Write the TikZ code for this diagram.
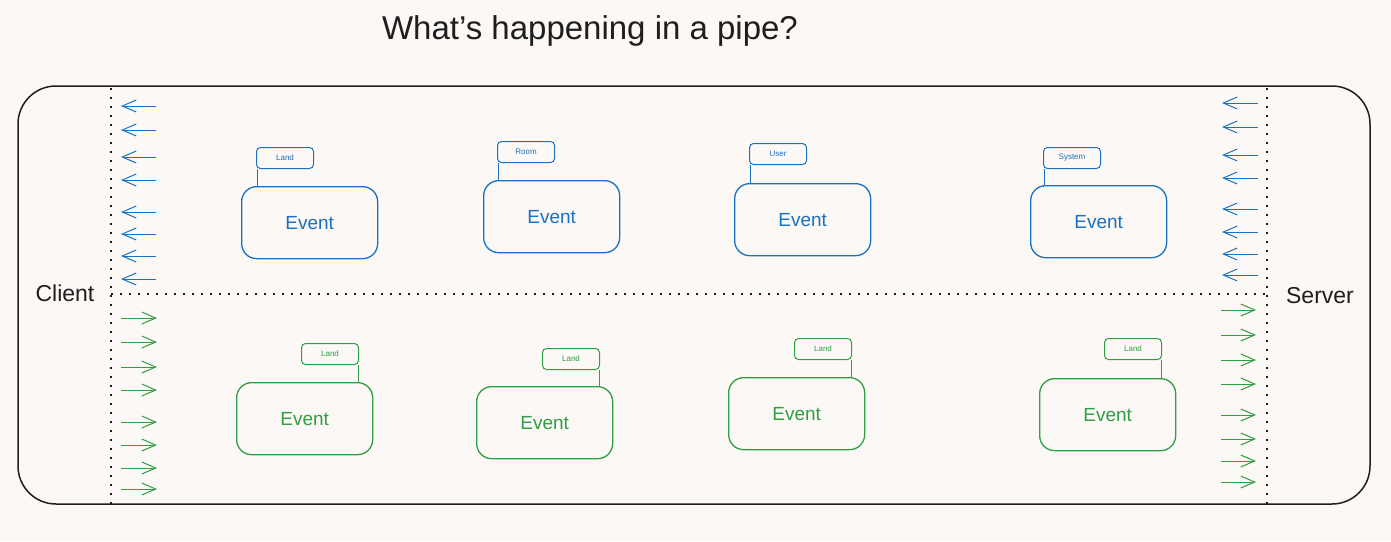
\documentclass[tikz,border=0pt]{standalone}
\usepackage{fontspec}
\setmainfont{Liberation Sans}
\usetikzlibrary{arrows.meta}
\definecolor{bg}{RGB}{252,248,246}
\definecolor{eblue}{RGB}{25,113,194}
\definecolor{egreen}{RGB}{47,158,68}
\definecolor{ink}{RGB}{30,30,30}
\begin{document}
\begin{tikzpicture}[x=1pt,y=-1pt,
  eventbox/.style={draw, line width=1.3pt, rounded corners=15pt, minimum width=136pt, minimum height=72pt,
    font=\fontsize{19}{22}\selectfont, inner sep=0pt, anchor=north west, text depth=0pt},
  tagbox/.style={draw, line width=1pt, rounded corners=4pt, minimum width=57pt, minimum height=21pt,
    font=\fontsize{8}{9}\selectfont, inner sep=0pt, anchor=north west},
  bluestyle/.style={eblue, text=eblue},
  greenstyle/.style={egreen, text=egreen},
  tagline/.style={line width=1pt},
  flowarrow/.style={line width=1pt, -{Straight Barb[length=14pt,width=12pt]}},
  pipedot/.style={ink, line width=1.6pt, dash pattern=on 1.6pt off 7.4pt},
  sidelabel/.style={ink, font=\fontsize{23}{26}\selectfont}
]
\useasboundingbox (0,0) rectangle (1391,541);
\fill[bg] (0,0) rectangle (1391,541);

% title
\node[ink, font=\fontsize{33}{38}\selectfont] (title) at (590,31) {What’s happening in a pipe?};

% outer pipe
\draw[ink, line width=1.5pt, rounded corners=38pt] (18,86) rectangle (1370,504);
\node[draw=none, minimum width=1352pt, minimum height=418pt, anchor=north west, inner sep=0pt] (pipe) at (18,86) {};

% dotted boundaries
\coordinate (lt) at (111,88); \coordinate (lb) at (111,504);
\coordinate (rt) at (1267,88); \coordinate (rb) at (1267,504);
\coordinate (ml) at (111,294); \coordinate (mr) at (1267,294);
\draw[pipedot] (lt) -- (lb);
\draw[pipedot] (rt) -- (rb);
\draw[pipedot] (ml) -- (mr);

\node[sidelabel] (client) at (65,293) {Client};
\node[sidelabel] (server) at (1320,296) {Server};

% blue arrows (server -> client)
\foreach \y [count=\i] in {106,130,157,180,212,234,256,279} {
  \coordinate (lbs\i) at (156,\y); \coordinate (lbe\i) at (121,\y);
  \draw[flowarrow, eblue] (lbs\i) -- (lbe\i);
}
\foreach \y [count=\i] in {103,127,155,178,209,232,254,275} {
  \coordinate (rbs\i) at (1258,\y); \coordinate (rbe\i) at (1222,\y);
  \draw[flowarrow, eblue] (rbs\i) -- (rbe\i);
}
% green arrows (client -> server)
\foreach \y [count=\i] in {318,342,367,390,422,445,468,489} {
  \coordinate (lgs\i) at (121,\y); \coordinate (lge\i) at (157,\y);
  \draw[flowarrow, egreen] (lgs\i) -- (lge\i);
}
\foreach \y [count=\i] in {310,335,360,384,415,439,461,482} {
  \coordinate (rgs\i) at (1221,\y); \coordinate (rge\i) at (1256,\y);
  \draw[flowarrow, egreen] (rgs\i) -- (rge\i);
}

% blue events
\node[eventbox, bluestyle] (b1) at (241,186) {Event};
\node[tagbox, bluestyle] (bt1) at (256,147) {Land};
\node[eventbox, bluestyle] (b2) at (483,180) {Event};
\node[tagbox, bluestyle] (bt2) at (497,141) {Room};
\node[eventbox, bluestyle] (b3) at (734,183) {Event};
\node[tagbox, bluestyle] (bt3) at (749,143) {User};
\node[eventbox, bluestyle] (b4) at (1030,185) {Event};
\node[tagbox, bluestyle] (bt4) at (1043,147) {System};
\foreach \i in {1,2,3,4} {
  \draw[tagline, eblue] ([xshift=1pt]bt\i.south west) -- ([xshift=1pt]bt\i.south west |- b\i.north);
}

% green events
\node[eventbox, greenstyle] (g1) at (236,382) {Event};
\node[tagbox, greenstyle] (gt1) at (301,343) {Land};
\node[eventbox, greenstyle] (g2) at (476,386) {Event};
\node[tagbox, greenstyle] (gt2) at (542,348) {Land};
\node[eventbox, greenstyle] (g3) at (728,377) {Event};
\node[tagbox, greenstyle] (gt3) at (794,338) {Land};
\node[eventbox, greenstyle] (g4) at (1039,378) {Event};
\node[tagbox, greenstyle] (gt4) at (1104,338) {Land};
\foreach \i in {1,2,3,4} {
  \draw[tagline, egreen] ([xshift=-1pt]gt\i.south east) -- ([xshift=-1pt]gt\i.south east |- g\i.north);
}
\end{tikzpicture}
\end{document}
